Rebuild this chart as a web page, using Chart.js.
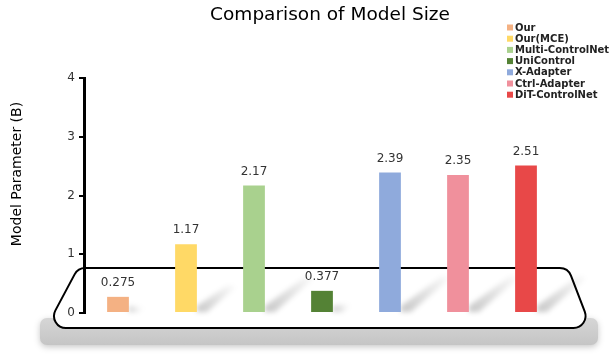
<!DOCTYPE html>
<html>
<head>
<meta charset="utf-8">
<script src="https://cdn.jsdelivr.net/npm/chart.js@4"></script>
<style>
  html, body { margin: 0; padding: 0; background: #fff; }
  #wrap { width: 613px; height: 360px; }
</style>
</head>
<body>
<div id="wrap"><canvas id="sizeChart" width="613" height="360"></canvas></div>
<script>
// data
const models = ['Our', 'Our(MCE)', 'Multi-ControlNet', 'UniControl', 'X-Adapter', 'Ctrl-Adapter', 'DiT-ControlNet'];
const params = [0.275, 1.17, 2.17, 0.377, 2.39, 2.35, 2.51];
const barColors = ['#F4B183', '#FFD966', '#A9D18E', '#548235', '#8FAADC', '#F0909C', '#E84848'];
const yTicks = [0, 1, 2, 3, 4];

const FONT = "'DejaVu Sans', sans-serif";

// platform + gray slab under the bars, and soft shadows behind each bar
const stagePlugin = {
  id: 'stage',
  beforeDraw(chart) {
    const ctx = chart.ctx;
    ctx.save();
    // slab
    ctx.shadowColor = 'rgba(0,0,0,0.22)';
    ctx.shadowBlur = 6;
    ctx.shadowOffsetY = 2;
    const g = ctx.createLinearGradient(0, 318, 0, 346);
    g.addColorStop(0, '#d6d6d6');
    g.addColorStop(1, '#c4c4c4');
    ctx.fillStyle = g;
    ctx.beginPath();
    ctx.roundRect(40, 318, 558, 27, 7);
    ctx.fill();
    ctx.restore();

    // platform top
    ctx.save();
    const pts = [[78, 268], [568, 268], [591, 328], [46, 328]];
    ctx.beginPath();
    ctx.moveTo((pts[0][0] + pts[1][0]) / 2, pts[0][1]);
    for (let i = 1; i <= 4; i++) {
      const p = pts[i % 4], q = pts[(i + 1) % 4];
      ctx.arcTo(p[0], p[1], q[0], q[1], 12);
    }
    ctx.closePath();
    ctx.fillStyle = '#fff';
    ctx.fill();
    ctx.lineWidth = 2;
    ctx.strokeStyle = '#000';
    ctx.stroke();
    ctx.restore();
  },
  beforeDatasetsDraw(chart) {
    const ctx = chart.ctx;
    const meta = chart.getDatasetMeta(0);
    ctx.save();
    ctx.filter = 'blur(2.5px)';
    meta.data.forEach(bar => {
      const h = bar.base - bar.y;
      const len = Math.min(h * 0.4, 36);
      const xr = bar.x + bar.width / 2;
      const b = bar.base;
      const grad = ctx.createLinearGradient(xr, b, xr + len * 1.2, b - len);
      grad.addColorStop(0, 'rgba(0,0,0,0.22)');
      grad.addColorStop(1, 'rgba(0,0,0,0.03)');
      ctx.fillStyle = grad;
      ctx.beginPath();
      ctx.moveTo(xr, b);
      ctx.lineTo(xr, b - 6);
      ctx.lineTo(xr + len * 1.15, b - len);
      ctx.lineTo(xr + len * 1.15 + 8, b - len + 2);
      ctx.lineTo(xr + 10, b);
      ctx.closePath();
      ctx.fill();
    });
    ctx.restore();
  },
  afterDatasetsDraw(chart) {
    const ctx = chart.ctx;
    const meta = chart.getDatasetMeta(0);
    ctx.save();
    ctx.font = '12px ' + FONT;
    ctx.fillStyle = '#333';
    ctx.textAlign = 'center';
    ctx.textBaseline = 'middle';
    meta.data.forEach((bar, i) => {
      ctx.fillText(String(params[i]), bar.x, bar.y - 14);
    });
    ctx.restore();
  },
  afterDraw(chart) {
    const ctx = chart.ctx;
    ctx.save();
    // title
    ctx.font = '18.5px ' + FONT;
    ctx.fillStyle = '#000';
    ctx.textAlign = 'center';
    ctx.textBaseline = 'middle';
    ctx.fillText('Comparison of Model Size', 330, 15);

    // y axis title
    ctx.save();
    ctx.translate(17, 174);
    ctx.rotate(-Math.PI / 2);
    ctx.font = '14px ' + FONT;
    ctx.fillText('Model Parameter (B)', 0, 0);
    ctx.restore();

    // legend
    ctx.font = 'bold 10px ' + FONT;
    ctx.textAlign = 'left';
    models.forEach((m, i) => {
      const y = 27.5 + i * 11.2;
      ctx.fillStyle = barColors[i];
      ctx.fillRect(507, y - 3, 6, 6);
      ctx.fillStyle = '#222';
      ctx.fillText(m, 515, y + 0.5);
    });
    ctx.restore();
  }
};

new Chart(document.getElementById('sizeChart'), {
  type: 'bar',
  data: {
    labels: models,
    datasets: [{
      label: 'Model Parameter (B)',
      data: params,
      backgroundColor: barColors,
      barPercentage: 0.32,
      categoryPercentage: 1.0
    }]
  },
  options: {
    responsive: false,
    animation: false,
    layout: { padding: { top: 78, right: 53, bottom: 47, left: 0 } },
    plugins: {
      legend: { display: false },
      tooltip: { enabled: false },
      title: { display: false }
    },
    scales: {
      x: { display: false },
      y: {
        min: 0,
        max: 4,
        afterFit(scale) { scale.width = 84; },
        afterBuildTicks(scale) { scale.ticks = yTicks.map(v => ({ value: v })); },
        border: { display: true, color: '#000', width: 3 },
        grid: { drawOnChartArea: false, drawTicks: true, tickLength: 5, color: '#000', lineWidth: 2 },
        ticks: { color: '#333', font: { family: FONT, size: 12 }, padding: 4 }
      }
    }
  },
  plugins: [stagePlugin]
});
</script>
</body>
</html>
